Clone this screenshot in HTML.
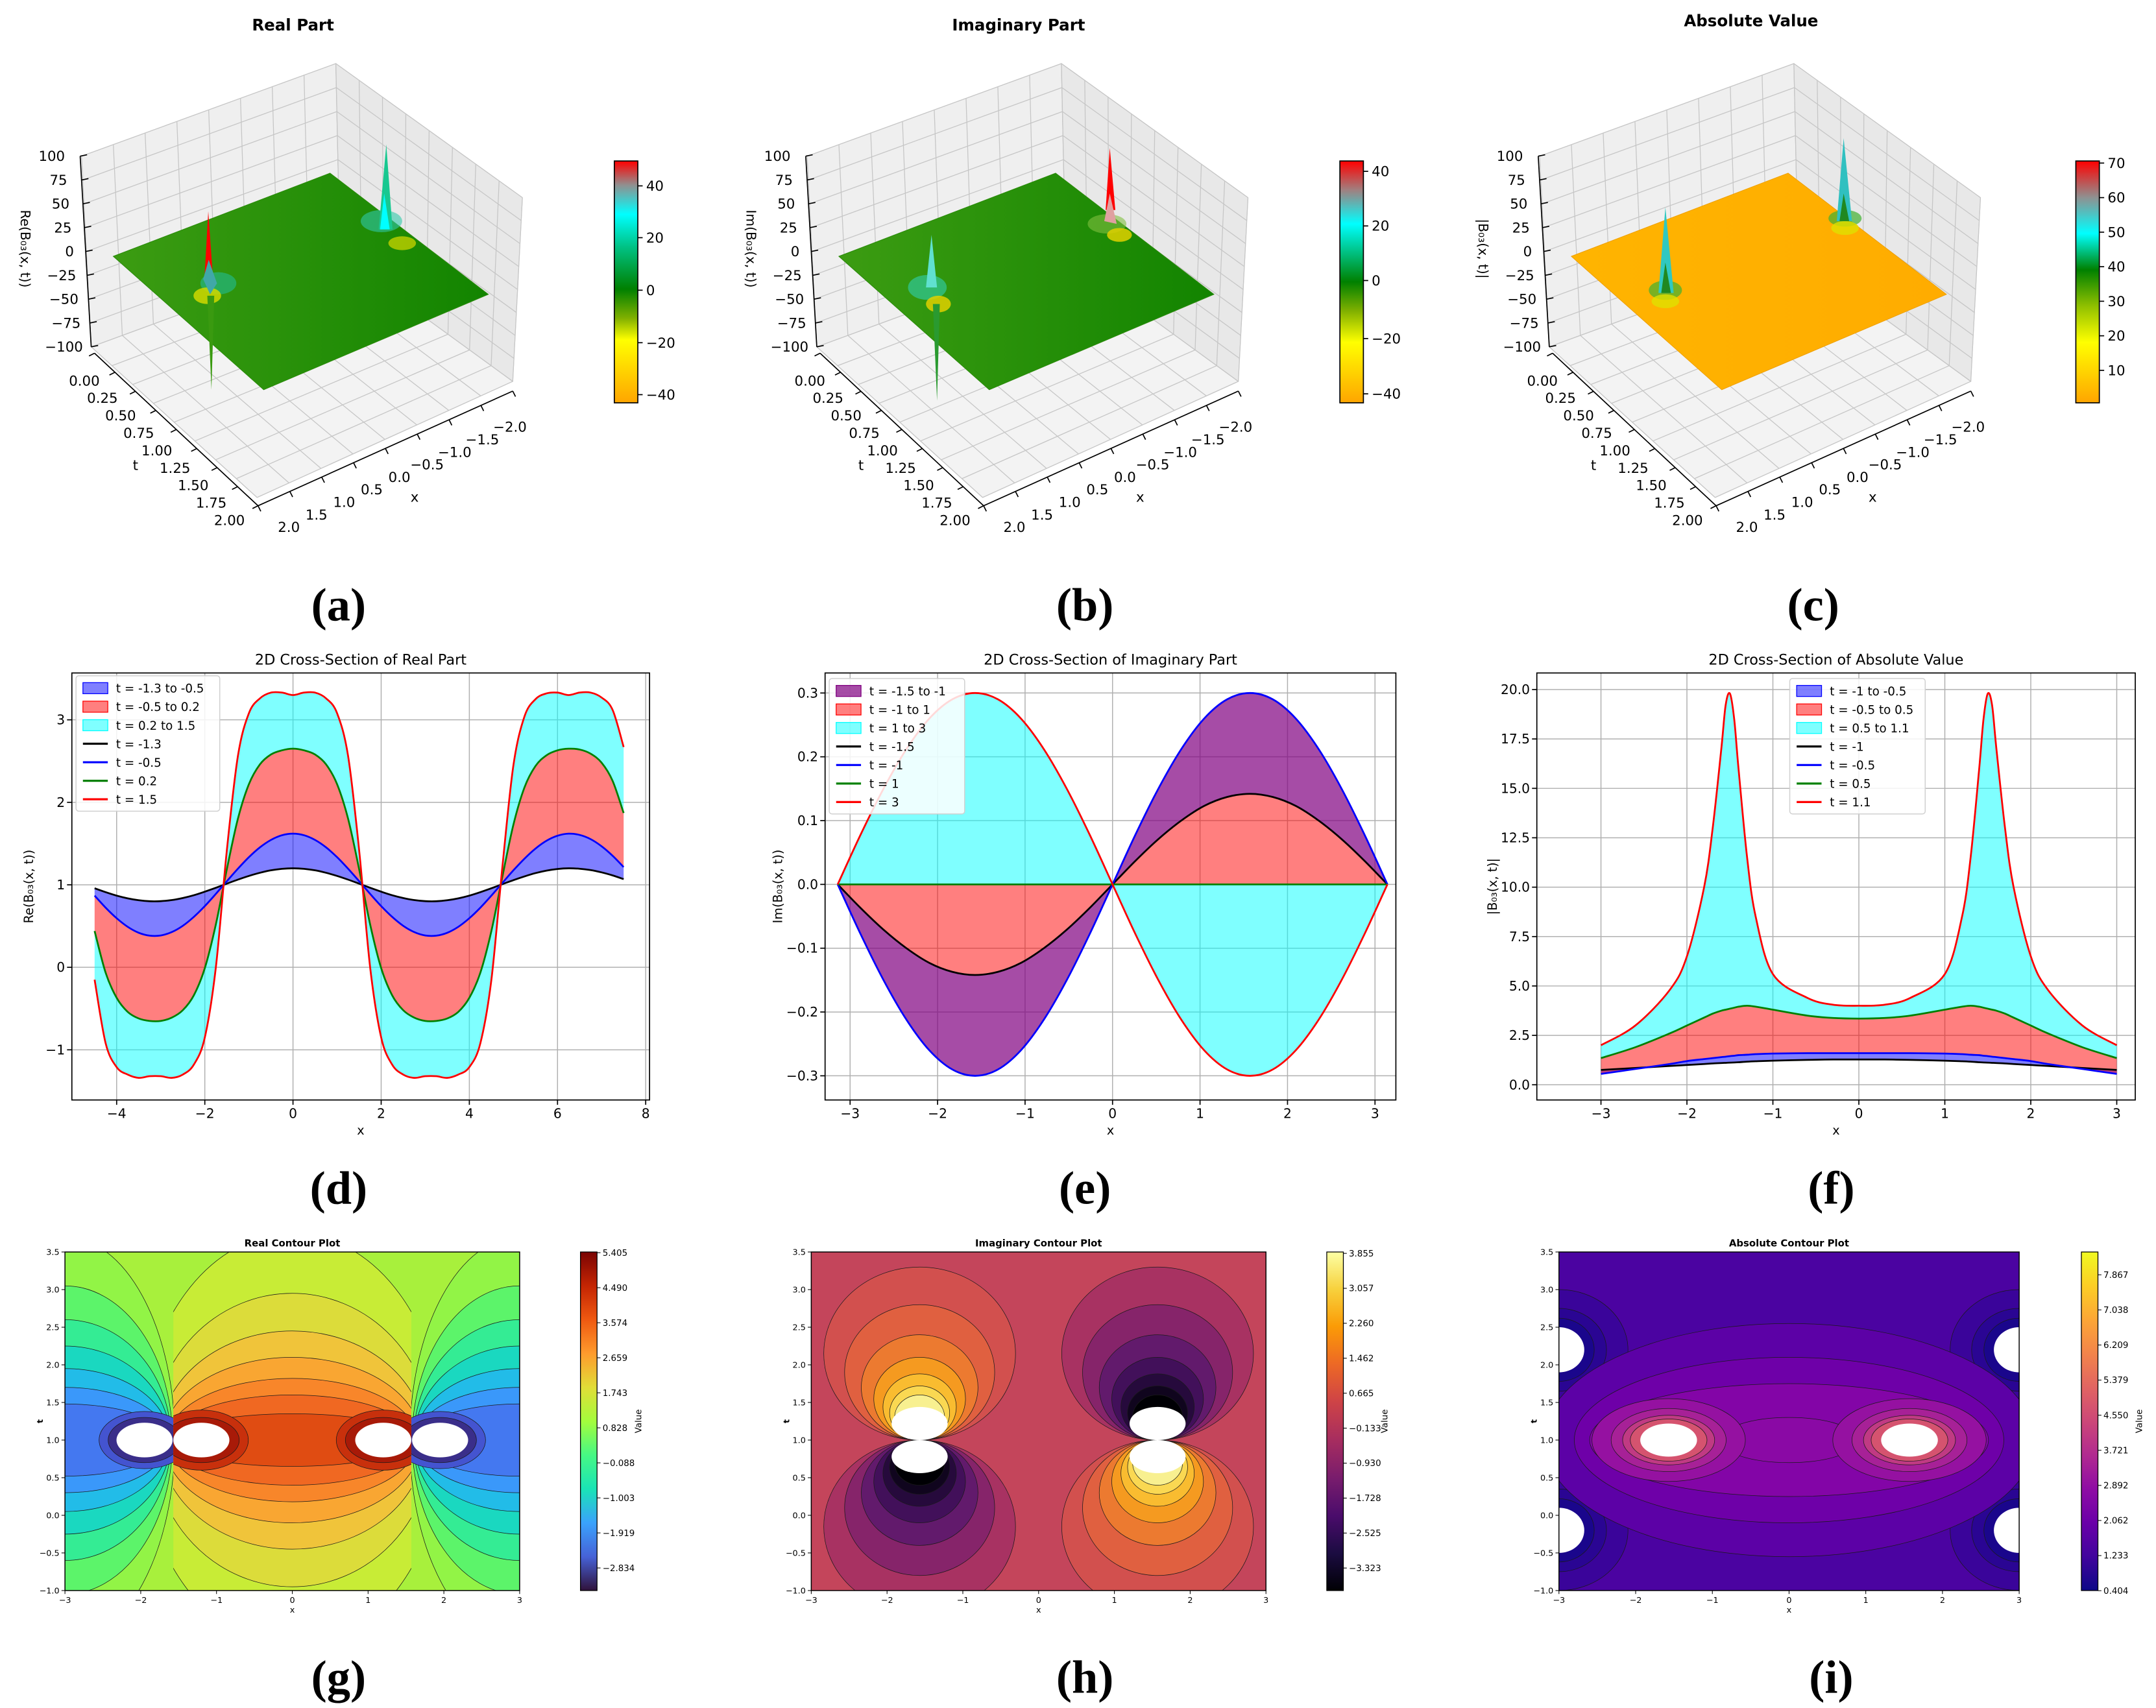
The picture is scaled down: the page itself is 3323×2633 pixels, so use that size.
<!DOCTYPE html>
<html><head><meta charset="utf-8">
<style>html,body{margin:0;padding:0;background:#fff}svg{display:block}</style>
</head><body>
<svg id="fig" xmlns="http://www.w3.org/2000/svg" width="3323" height="2633" viewBox="0 0 1560 1236" preserveAspectRatio="none" font-family="'DejaVu Sans','Liberation Sans',sans-serif">
<defs id="defs"></defs>
<rect x="0" y="0" width="1560" height="1236" fill="#fff"/>
</svg>
<script>
// ---------- panel (d) data ----------
const dX=[-4.5,-4.25,-4,-3.75,-3.5,-3.25,-3,-2.75,-2.5,-2.25,-2,-1.75,-1.5,-1.25,-1,-0.75,-0.5,-0.25,0,0.25,0.5,0.75,1,1.25,1.5,1.75,2,2.25,2.5,2.75,3,3.25,3.5,3.75,4,4.25,4.5,4.75,5,5.25,5.5,5.75,6,6.25,6.5,6.75,7,7.25,7.5];
const dBlack=[.958,.911,.869,.836,.813,.801,.802,.815,.840,.874,.917,.964,1.014,1.063,1.108,1.146,1.176,1.194,1.2,1.194,1.176,1.146,1.108,1.063,1.014,.964,.917,.874,.840,.815,.802,.801,.813,.836,.869,.911,.958,1.008,1.057,1.102,1.142,1.172,1.192,1.2,1.195,1.179,1.151,1.114,1.069];
const dBlue=[.869,.723,.595,.491,.419,.384,.386,.427,.503,.611,.742,.890,1.044,1.195,1.335,1.454,1.544,1.601,1.62,1.601,1.544,1.454,1.335,1.195,1.044,.890,.742,.611,.503,.427,.386,.384,.419,.491,.595,.723,.869,1.023,1.176,1.317,1.439,1.534,1.595,1.62,1.605,1.554,1.467,1.352,1.215];
const dGreen=[.44,-.065,-.37,-.54,-.62,-.65,-.65,-.61,-.52,-.34,-.01,.52,1.19,1.80,2.22,2.46,2.58,2.63,2.65,2.63,2.58,2.46,2.22,1.80,1.19,.52,-.01,-.34,-.52,-.61,-.65,-.65,-.62,-.54,-.37,-.065,.44,1.10,1.73,2.18,2.44,2.57,2.63,2.65,2.64,2.59,2.48,2.26,1.87];
const dRed=[-.15,-.92,-1.21,-1.30,-1.34,-1.32,-1.32,-1.34,-1.30,-1.18,-.85,0,1.42,2.56,3.08,3.26,3.33,3.33,3.30,3.33,3.33,3.26,3.08,2.56,1.42,0,-.85,-1.18,-1.30,-1.34,-1.32,-1.32,-1.34,-1.30,-1.21,-.92,-.15,1.22,2.45,3.04,3.25,3.32,3.33,3.30,3.33,3.33,3.27,3.12,2.67];
const dXTicks=[-4,-2,0,2,4,6,8];
const dYTicks=[-1,0,1,2,3];
// ---------- panel (e) data ----------
const eX=[-3.1416,-2.8798,-2.618,-2.3562,-2.0944,-1.8326,-1.5708,-1.309,-1.0472,-0.7854,-0.5236,-0.2618,0,0.2618,0.5236,0.7854,1.0472,1.309,1.5708,1.8326,2.0944,2.3562,2.618,2.8798,3.1416];
const eBlack=[0,-.037,-.071,-.1,-.123,-.137,-.142,-.137,-.123,-.1,-.071,-.037,0,.037,.071,.1,.123,.137,.142,.137,.123,.1,.071,.037,0];
const eBlue=[0,-.078,-.15,-.212,-.26,-.29,-.3,-.29,-.26,-.212,-.15,-.078,0,.078,.15,.212,.26,.29,.3,.29,.26,.212,.15,.078,0];
const eGreen=[0,0,0,0,0,0,0,0,0,0,0,0,0,0,0,0,0,0,0,0,0,0,0,0,0];
const eRed=[0,.078,.15,.212,.26,.29,.3,.29,.26,.212,.15,.078,0,-.078,-.15,-.212,-.26,-.29,-.3,-.29,-.26,-.212,-.15,-.078,0];
const eXTicks=[-3,-2,-1,0,1,2,3];
const eYTicks=[-0.3,-0.2,-0.1,0,0.1,0.2,0.3];
// ---------- panel (f) data ----------
const fX=[-3,-2.6,-2.2,-2.0,-1.8,-1.7,-1.6,-1.55,-1.5,-1.45,-1.4,-1.3,-1.2,-1.0,-0.6,-0.3,0,0.3,0.6,1.0,1.2,1.3,1.4,1.45,1.5,1.55,1.6,1.7,1.8,2.0,2.2,2.6,3];
const fRed=[2.0,3.0,4.8,6.5,10,13,17,19.2,19.8,18.5,16,11.5,8.5,5.6,4.4,4.05,4.0,4.05,4.4,5.6,8.5,11.5,16,18.5,19.8,19.2,17,13,10,6.5,4.8,3.0,2.0];
const fGreen=[1.35,1.9,2.6,3.0,3.4,3.6,3.75,3.8,3.85,3.9,3.95,4.0,3.95,3.8,3.5,3.38,3.35,3.38,3.5,3.8,3.95,4.0,3.95,3.9,3.85,3.8,3.75,3.6,3.4,3.0,2.6,1.9,1.35];
const fBlue=[.55,.8,1.05,1.2,1.3,1.35,1.4,1.42,1.45,1.47,1.5,1.52,1.55,1.58,1.6,1.6,1.6,1.6,1.6,1.58,1.55,1.52,1.5,1.47,1.45,1.42,1.4,1.35,1.3,1.2,1.05,.8,.55];
const fBlack=[.75,.85,.95,1.0,1.05,1.08,1.1,1.11,1.12,1.13,1.14,1.17,1.19,1.22,1.26,1.28,1.28,1.28,1.26,1.22,1.19,1.17,1.14,1.13,1.12,1.11,1.1,1.08,1.05,1.0,.95,.85,.75];
const fXTicks=[-3,-2,-1,0,1,2,3];
const fYTicks=[0,2.5,5,7.5,10,12.5,15,17.5,20];
// ---------- colorbar tick labels ----------
const gCbTicks=['5.405','4.490','3.574','2.659','1.743','0.828','−0.088','−1.003','−1.919','−2.834'];
const hCbTicks=['3.855','3.057','2.260','1.462','0.665','−0.133','−0.930','−1.728','−2.525','−3.323'];
const iCbTicks=['7.867','7.038','6.209','5.379','4.550','3.721','2.892','2.062','1.233','0.404'];

const NS='http://www.w3.org/2000/svg';
const fig=document.getElementById('fig');
const defs=document.getElementById('defs');
function mk(tag,attrs,parent){const e=document.createElementNS(NS,tag);for(const k in attrs)e.setAttribute(k,attrs[k]);(parent||fig).appendChild(e);return e;}
function grp(name,parent,attrs){const g=mk('g',attrs||{},parent);


return g;}
function tx(parent,name,s,x,y,attrs){const e=mk('text',Object.assign({x:x,y:y},attrs||{}),parent);e.textContent=s;


return e;}
function ln(parent,name,x1,y1,x2,y2,stroke,w){const e=mk('line',{x1:x1,y1:y1,x2:x2,y2:y2,stroke:stroke,'stroke-width':w},parent);


return e;}
function gradient(id,stops){const lg=mk('linearGradient',{id:id,x1:0,y1:0,x2:0,y2:1},defs);stops.forEach(s=>mk('stop',{offset:s[0],'stop-color':s[1]},lg));}
function seg(p){let d='';for(let i=0;i<p.length-1;i++){const p0=p[Math.max(i-1,0)],p1=p[i],p2=p[i+1],p3=p[Math.min(i+2,p.length-1)];
d+=` C${(p1[0]+(p2[0]-p0[0])/6).toFixed(2)},${(p1[1]+(p2[1]-p0[1])/6).toFixed(2)} ${(p2[0]-(p3[0]-p1[0])/6).toFixed(2)},${(p2[1]-(p3[1]-p1[1])/6).toFixed(2)} ${p2[0].toFixed(2)},${p2[1].toFixed(2)}`;}return d;}
function smoothPath(p){return `M${p[0][0].toFixed(2)},${p[0][1].toFixed(2)}`+seg(p);}
function fmt(v){return (v<0?'−':'')+Math.abs(v);}

// ================= ROW 2 : 2D cross sections =================
function panel2D(c){
  const g=grp(c.name);
  const sx=v=>c.x0+v*c.kx, sy=v=>c.y0-v*c.ky;
  mk('rect',{x:c.L,y:c.T,width:c.R-c.L,height:c.B-c.T,fill:'#fff'},g);
  const grid=grp(c.name+'-grid',g);
  c.xt.forEach(v=>{if(sx(v)>c.L&&sx(v)<c.R)ln(grid,'x-gridline',sx(v),c.T,sx(v),c.B,'#b0b0b0',0.7);});
  c.yt.forEach(v=>ln(grid,'y-gridline',c.L,sy(v),c.R,sy(v),'#b0b0b0',0.7));
  c.fills.forEach(f=>{
    const A=c.xs.map((x,i)=>[sx(x),sy(f.lo[i])]);
    const B=c.xs.map((x,i)=>[sx(x),sy(f.hi[i])]).reverse();
    const p=mk('path',{d:smoothPath(A)+` L${B[0][0].toFixed(2)},${B[0][1].toFixed(2)}`+seg(B)+'Z',fill:f.color,'fill-opacity':f.op,stroke:'none'},g);
    
    
  });
  c.lines.forEach(l=>{
    const P=c.xs.map((x,i)=>[sx(x),sy(l.v[i])]);
    const p=mk('path',{d:smoothPath(P),fill:'none',stroke:l.color,'stroke-width':1.3},g);
    
    
  });
  const fr=mk('rect',{x:c.L,y:c.T,width:c.R-c.L,height:c.B-c.T,fill:'none',stroke:'#000','stroke-width':0.8},g);
  
  
  const ax=grp(c.name+'-x-axis',g,{'font-size':9.5,'text-anchor':'middle'});
  c.xt.forEach((v,i)=>{ln(ax,'x-tick',sx(v),c.B,sx(v),c.B+3.5,'#000',0.8);tx(ax,'x-tick-label',c.xtl[i],sx(v),c.B+13);});
  const ay=grp(c.name+'-y-axis',g,{'font-size':9.5,'text-anchor':'end'});
  c.yt.forEach((v,i)=>{ln(ay,'y-tick',c.L-3.5,sy(v),c.L,sy(v),'#000',0.8);tx(ay,'y-tick-label',c.ytl[i],c.L-5,sy(v)+3.3);});
  tx(g,'chart-title',c.title,(c.L+c.R)/2,c.T-6,{'font-size':10.5,'text-anchor':'middle'});
  tx(g,'x-axis-title','x',(c.L+c.R)/2,c.B+25,{'font-size':9,'text-anchor':'middle'});
  tx(g,'y-axis-title',c.ylabel,0,0,{'font-size':9,'text-anchor':'middle',transform:`translate(${c.ylx},${(c.T+c.B)/2}) rotate(-90)`});
  const lg=grp(c.name+'-legend',g,{'font-size':8.6});
  mk('rect',{x:c.lgx,y:c.lgy,width:c.lgw,height:98,rx:2,fill:'#fff','fill-opacity':0.85,stroke:'#d0d0d0','stroke-width':0.7},lg);
  c.legend.forEach((e,i)=>{
    const y=c.lgy+9+i*13.4;
    if(e.patch){const r=mk('rect',{x:c.lgx+5,y:y-4,width:18,height:8,fill:e.color,'fill-opacity':e.op,stroke:e.edge,'stroke-width':0.6},lg);
      
      }
    else ln(lg,'legend-line',c.lgx+5,y,c.lgx+23,y,e.color,1.5);
    tx(lg,'legend-entry',e.label,c.lgx+29,y+3.2);
  });
}
panel2D({name:'real-cross-section',L:52,R:470,T:487,B:796,x0:212,kx:31.9,y0:700,ky:59.7,xs:dX,
  xt:dXTicks,xtl:dXTicks.map(fmt),yt:dYTicks,ytl:dYTicks.map(fmt),title:'2D Cross-Section of Real Part',ylabel:'Re(B₀₃(x, t))',ylx:24,
  fills:[{name:'fill-t-neg1.3-to-neg0.5',lo:dBlack,hi:dBlue,color:'#0000ff',op:0.5},{name:'fill-t-neg0.5-to-0.2',lo:dBlue,hi:dGreen,color:'#ff0000',op:0.5},{name:'fill-t-0.2-to-1.5',lo:dGreen,hi:dRed,color:'#00ffff',op:0.5}],
  lines:[{name:'line-t-neg1.3',v:dBlack,color:'#000'},{name:'line-t-neg0.5',v:dBlue,color:'#0000ff'},{name:'line-t-0.2',v:dGreen,color:'#008000'},{name:'line-t-1.5',v:dRed,color:'#ff0000'}],
  lgx:55,lgy:489,lgw:104,
  legend:[{patch:1,color:'#0000ff',op:.5,edge:'#0000ff',label:'t = -1.3 to -0.5'},{patch:1,color:'#ff0000',op:.5,edge:'#ff0000',label:'t = -0.5 to 0.2'},{patch:1,color:'#00ffff',op:.5,edge:'#00ffff',label:'t = 0.2 to 1.5'},
    {color:'#000',label:'t = -1.3'},{color:'#0000ff',label:'t = -0.5'},{color:'#008000',label:'t = 0.2'},{color:'#ff0000',label:'t = 1.5'}]});
panel2D({name:'imaginary-cross-section',L:597,R:1010,T:487,B:796,x0:805,kx:63.3,y0:640,ky:461.7,xs:eX,
  xt:eXTicks,xtl:eXTicks.map(fmt),yt:eYTicks,ytl:eYTicks.map(v=>fmt(+v.toFixed(1)).replace(/^(−?)0$/,'$10.0').replace(/^0$/,'0.0')),title:'2D Cross-Section of Imaginary Part',ylabel:'Im(B₀₃(x, t))',ylx:566,
  fills:[{name:'fill-t-neg1.5-to-neg1',lo:eBlue,hi:eBlack,color:'#800080',op:0.7},{name:'fill-t-neg1-to-1',lo:eBlack,hi:eGreen,color:'#ff0000',op:0.5},{name:'fill-t-1-to-3',lo:eGreen,hi:eRed,color:'#00ffff',op:0.5}],
  lines:[{name:'line-t-neg1.5',v:eBlack,color:'#000'},{name:'line-t-neg1',v:eBlue,color:'#0000ff'},{name:'line-t-1',v:eGreen,color:'#008000'},{name:'line-t-3',v:eRed,color:'#ff0000'}],
  lgx:600,lgy:491,lgw:98,
  legend:[{patch:1,color:'#800080',op:.7,edge:'#800080',label:'t = -1.5 to -1'},{patch:1,color:'#ff0000',op:.5,edge:'#ff0000',label:'t = -1 to 1'},{patch:1,color:'#00ffff',op:.5,edge:'#00ffff',label:'t = 1 to 3'},
    {color:'#000',label:'t = -1.5'},{color:'#0000ff',label:'t = -1'},{color:'#008000',label:'t = 1'},{color:'#ff0000',label:'t = 3'}]});
panel2D({name:'absolute-cross-section',L:1112,R:1545,T:487,B:796,x0:1345,kx:62.2,y0:785,ky:14.3,xs:fX,
  xt:fXTicks,xtl:fXTicks.map(fmt),yt:fYTicks,ytl:fYTicks.map(v=>v.toFixed(1)),title:'2D Cross-Section of Absolute Value',ylabel:'|B₀₃(x, t)|',ylx:1083,
  fills:[{name:'fill-t-neg1-to-neg0.5',lo:fBlack,hi:fBlue,color:'#0000ff',op:0.5},{name:'fill-t-neg0.5-to-0.5',lo:fBlue,hi:fGreen,color:'#ff0000',op:0.5},{name:'fill-t-0.5-to-1.1',lo:fGreen,hi:fRed,color:'#00ffff',op:0.5}],
  lines:[{name:'line-t-neg1',v:fBlack,color:'#000'},{name:'line-t-neg0.5',v:fBlue,color:'#0000ff'},{name:'line-t-0.5',v:fGreen,color:'#008000'},{name:'line-t-1.1',v:fRed,color:'#ff0000'}],
  lgx:1295,lgy:491,lgw:98,
  legend:[{patch:1,color:'#0000ff',op:.5,edge:'#0000ff',label:'t = -1 to -0.5'},{patch:1,color:'#ff0000',op:.5,edge:'#ff0000',label:'t = -0.5 to 0.5'},{patch:1,color:'#00ffff',op:.5,edge:'#00ffff',label:'t = 0.5 to 1.1'},
    {color:'#000',label:'t = -1'},{color:'#0000ff',label:'t = -0.5'},{color:'#008000',label:'t = 0.5'},{color:'#ff0000',label:'t = 1.1'}]});

// ================= ROW 1 : 3D surfaces =================
gradient('cb-a',[[0,'#ff0000'],[.1,'#909090'],[.22,'#00ffff'],[.36,'#00c080'],[.53,'#008000'],[.65,'#80b000'],[.74,'#ffff00'],[1,'#ffa500']]);
gradient('cb-b',[[0,'#ff0000'],[.12,'#a08080'],[.26,'#00ffff'],[.5,'#008000'],[.62,'#80b000'],[.75,'#ffff00'],[1,'#ffa500']]);
gradient('cb-c',[[0,'#ff0000'],[.15,'#909090'],[.3,'#00ffff'],[.45,'#008000'],[.6,'#90c000'],[.75,'#ffff00'],[1,'#ffa500']]);
const sg=mk('linearGradient',{id:'surf-green',x1:0,y1:0,x2:1,y2:0},defs);
mk('stop',{offset:0,'stop-color':'#3c9c12'},sg);mk('stop',{offset:1,'stop-color':'#128400'},sg);
const so=mk('linearGradient',{id:'surf-orange',x1:0,y1:0,x2:1,y2:0},defs);
mk('stop',{offset:0,'stop-color':'#ffb400'},so);mk('stop',{offset:1,'stop-color':'#ffac00'},so);

function bil(Q,u,v){const [A,B,C,D]=Q;return [(1-v)*((1-u)*A[0]+u*B[0])+v*((1-u)*D[0]+u*C[0]),(1-v)*((1-u)*A[1]+u*B[1])+v*((1-u)*D[1]+u*C[1])];}
function draw3D(c){
  const ox=c.ox;
  const P=p=>[p[0]+ox,p[1]];
  const g=grp(c.name);
  const LT=P([59,113]),BT=P([243,46]),BB=P([246,185]),LB=P([66,251]),RT=P([378,143]),RB=P([371,276]),F=P([186,360]);
  const panes=[{n:'back-left-pane',q:[LT,BT,BB,LB],f:'#efefef'},{n:'back-right-pane',q:[BT,RT,RB,BB],f:'#e8e8e8'},{n:'floor-pane',q:[LB,BB,RB,F],f:'#f3f3f3'}];
  panes.forEach(pn=>{
    const pg=grp(pn.n,g);
    mk('polygon',{points:pn.q.map(p=>p.join(',')).join(' '),fill:pn.f,stroke:'#d0d0d0','stroke-width':0.5},pg);
    for(let i=0;i<=8;i++){const a=bil(pn.q,i/8,0),b=bil(pn.q,i/8,1);ln(pg,'grid-line',a[0],a[1],b[0],b[1],'#c6c6c6',0.6);
      const e=bil(pn.q,0,i/8),f=bil(pn.q,1,i/8);ln(pg,'grid-line',e[0],e[1],f[0],f[1],'#c6c6c6',0.6);}
  });
  const S=[[82,185.5],[238.8,125.3],[353.3,213],[190.8,282]].map(P);
  const sf=mk('polygon',{points:S.map(p=>p.join(',')).join(' '),fill:c.surf,stroke:c.surfEdge,'stroke-width':0.5},g);
  
  
  const sp=grp('surface-spikes',g);
  c.blobs.forEach(b=>mk('ellipse',{cx:b[0]+ox,cy:b[1],rx:b[2],ry:b[3],fill:b[4],'fill-opacity':b[5]},sp));
  c.spikes.forEach(s=>mk('polygon',{points:s[0].map(p=>(p[0]+ox)+','+p[1]).join(' '),fill:s[1]},sp));
  // axes
  const za=grp('z-axis',g,{'font-size':10,'text-anchor':'end'});
  ln(za,'z-axis-line',58+ox,113,66+ox,251,'#000',0.8);
  for(let j=0;j<=8;j++){const v=j/8,x=58+8*v+ox,y=113+138*v;ln(za,'z-tick',x,y,x+5,y-1,'#000',0.8);
    tx(za,'z-tick-label',fmt(100-25*j),47+13*v+ox,y+3.5);}
  tx(g,'z-axis-title',c.zlabel,0,0,{'font-size':9.5,'text-anchor':'middle',transform:`translate(${15+ox},180) rotate(90)`});
  const ta=grp('t-axis',g,{'font-size':10,'text-anchor':'middle'});
  ln(ta,'t-axis-line',68.4+ox,255.6,186.7+ox,366,'#000',0.8);
  for(let j=0;j<=8;j++){const u=j/8,x=68.4+118.3*u+ox,y=255.6+110.4*u;ln(ta,'t-tick',x,y,x-4,y+2,'#000',0.8);
    tx(ta,'t-tick-label',(0.25*j).toFixed(2),61+105*u+ox,279+101*u);}
  tx(g,'t-axis-title','t',98+ox,340,{'font-size':10,'text-anchor':'middle'});
  const xa=grp('x-axis',g,{'font-size':10,'text-anchor':'middle'});
  ln(xa,'x-axis-line',186.7+ox,366,371+ox,283,'#000',0.8);
  for(let j=0;j<=8;j++){const u=j/8,x=186.7+184.3*u+ox,y=366-83*u;ln(xa,'x-tick',x,y,x+2,y+4,'#000',0.8);
    tx(xa,'x-tick-label',fmt(+(2-0.5*j).toFixed(1)).replace(/^(−?\d)$/,'$1.0'),209+160*u+ox,385-72.5*u);}
  tx(g,'x-axis-title','x',300+ox,363,{'font-size':10,'text-anchor':'middle'});
  tx(g,'chart-title',c.title,212+ox,c.ty,{'font-size':11.5,'font-weight':'bold','text-anchor':'middle'});
  const cb=grp('colorbar',g,{'font-size':10});
  const r=mk('rect',{x:c.cbx,y:116.5,width:17,height:175,fill:`url(#${c.cb})`,stroke:'#000','stroke-width':0.8},cb);
  
  
  c.cbt.forEach(t=>{ln(cb,'colorbar-tick',c.cbx+17,t[1],c.cbx+20.5,t[1],'#000',0.8);tx(cb,'colorbar-tick-label',t[0],c.cbx+23,t[1]+3.5);});
}
draw3D({name:'real-part-3d',ox:0,title:'Real Part',ty:22,zlabel:'Re(B₀₃(x, t))',surf:'url(#surf-green)',surfEdge:'#2a8a0a',cb:'cb-a',cbx:444.5,
  cbt:[['40',134.5],['20',172],['0',210],['−20',248],['−40',285.6]],
  blobs:[[158,205,13,8,'#20c0a0',.55],[150,214,10,6,'#d0d800',.85],[276,160,15,8,'#30c8a8',.6],[291,176,10,5,'#c0d000',.8]],
  spikes:[[[[148,200],[150.7,153],[154,200]],'#ff0000'],[[[147,202],[151,188],[157,205],[152,213]],'#40a8a8'],[[[150,214],[153,282],[155,214]],'#3a9a10'],
    [[[274,166],[279.5,104.5],[284,166]],'#18c890'],[[[275,166],[278,140],[282,166]],'#00ffff']]});
draw3D({name:'imaginary-part-3d',ox:525,title:'Imaginary Part',ty:22,zlabel:'Im(B₀₃(x, t))',surf:'url(#surf-green)',surfEdge:'#2a8a0a',cb:'cb-b',cbx:969.5,
  cbt:[['40',124],['20',163.5],['0',203],['−20',245],['−40',285]],
  blobs:[[146,208,14,9,'#30d0b0',.6],[154,220,9,6,'#e0d000',.85],[276,162,14,7,'#80c040',.6],[285,170,9,5,'#e0d000',.85]],
  spikes:[[[[145,208],[149,170],[153,208]],'#60e0d0'],[[[150,220],[153,290],[155,220]],'#2a9a30'],[[[275,152],[278,107],[282,152]],'#ff0000'],[[[274,160],[278,140],[283,162]],'#e0a0a0']]});
draw3D({name:'absolute-value-3d',ox:1055,title:'Absolute Value',ty:19,zlabel:'|B₀₃(x, t)|',surf:'url(#surf-orange)',surfEdge:'#f0a000',cb:'cb-c',cbx:1502,
  cbt:[['70',118],['60',143],['50',168],['40',193],['30',218],['20',243],['10',268]],
  blobs:[[150,210,12,7,'#40b030',.7],[150,218,10,5,'#e0e000',.8],[280,158,12,6,'#40b030',.7],[280,165,10,5,'#e0e000',.8]],
  spikes:[[[[145,212],[150,150],[156,212]],'#30c8c0'],[[[147,212],[150,190],[154,212]],'#208820'],[[[274,160],[279,100],[285,160]],'#30c0c0'],[[[276,160],[279,140],[283,160]],'#208820']]});

// ================= ROW 3 : contour plots =================
gradient('cb-turbo',[[0,'#7a0403'],[.1,'#c42503'],[.2,'#ef5911'],[.3,'#fe9b2d'],[.4,'#e1dd37'],[.5,'#a4fc3c'],[.6,'#46f884'],[.7,'#1ae4b6'],[.8,'#3aa2fc'],[.9,'#4662d7'],[1,'#30123b']]);
gradient('cb-inferno',[[0,'#fcffa4'],[.11,'#f7d13d'],[.22,'#fb9b06'],[.33,'#ed6925'],[.44,'#cf4446'],[.56,'#a52c60'],[.67,'#781c6d'],[.78,'#4a0c6b'],[.89,'#1b0c41'],[1,'#000004']]);
gradient('cb-plasma',[[0,'#f0f921'],[.1,'#fcce25'],[.2,'#fca636'],[.3,'#f2844b'],[.4,'#e16462'],[.5,'#cc4778'],[.6,'#b12a90'],[.7,'#8f0da4'],[.8,'#6a00a8'],[.9,'#41049d'],[1,'#0d0887']]);
function contour(c){
  const g=grp(c.name);
  const kx=(c.R-c.L)/6,ky=(c.B-c.T)/4.5;
  const sx=v=>(c.L+c.R)/2+v*kx, sy=v=>c.B-(v+1)*ky;
  const cp=mk('clipPath',{id:c.name+'-clip'},defs);mk('rect',{x:c.L,y:c.T,width:c.R-c.L,height:c.B-c.T},cp);
  const area=grp('contour-field',g,{'clip-path':`url(#${c.name}-clip)`});
  mk('rect',{x:c.L,y:c.T,width:c.R-c.L,height:c.B-c.T,fill:c.bg},area);
  c.layers.forEach(L=>{
    let parent=area;
    if(L.clip){const id=c.name+'-'+L.id;const cc=mk('clipPath',{id:id},defs);L.clip.forEach(r=>mk('rect',{x:sx(r[0]),y:c.T,width:sx(r[1])-sx(r[0]),height:c.B-c.T},cc));
      parent=mk('g',{'clip-path':`url(#${id})`},area);}
    L.e.forEach(e=>mk('ellipse',{cx:sx(e[0]),cy:sy(e[1]),rx:e[2]*kx,ry:e[3]*ky,fill:e[4],stroke:e[4]==='#fff'?'none':'#1a1a1a','stroke-width':0.35},parent));
  });
  const fr=mk('rect',{x:c.L,y:c.T,width:c.R-c.L,height:c.B-c.T,fill:'none',stroke:'#000','stroke-width':0.7},g);
  
  
  const ax=grp('x-axis',g,{'font-size':6,'text-anchor':'middle'});
  [-3,-2,-1,0,1,2,3].forEach(v=>{ln(ax,'x-tick',sx(v),c.B,sx(v),c.B+2.5,'#000',0.5);tx(ax,'x-tick-label',fmt(v),sx(v),c.B+9);});
  tx(g,'x-axis-title','x',(c.L+c.R)/2,c.B+16,{'font-size':6,'text-anchor':'middle'});
  const ay=grp('y-axis',g,{'font-size':6,'text-anchor':'end'});
  [-1,-0.5,0,0.5,1,1.5,2,2.5,3,3.5].forEach(v=>{ln(ay,'y-tick',c.L-2.5,sy(v),c.L,sy(v),'#000',0.5);tx(ay,'y-tick-label',fmt(v).replace(/^(−?\d)$/,'$1.0'),c.L-4,sy(v)+2.2);});
  tx(g,'y-axis-title','t',0,0,{'font-size':6,'font-weight':'bold','text-anchor':'middle',transform:`translate(${c.L-16},${(c.T+c.B)/2}) rotate(-90)`});
  tx(g,'chart-title',c.title,(c.L+c.R)/2,c.T-4,{'font-size':7,'font-weight':'bold','text-anchor':'middle'});
  const cb=grp('colorbar',g,{'font-size':6.3});
  const r=mk('rect',{x:c.cbx,y:c.T,width:12,height:c.B-c.T,fill:`url(#${c.cb})`,stroke:'#000','stroke-width':0.6},cb);
  
  
  c.cbt.forEach((t,i)=>{const y=c.cb0+i*c.cbs;ln(cb,'colorbar-tick',c.cbx+12,y,c.cbx+14.5,y,'#000',0.5);tx(cb,'colorbar-tick-label',t,c.cbx+16,y+2.2);});
  tx(cb,'colorbar-title','Value',0,0,{'font-size':6.3,'text-anchor':'middle',transform:`translate(${c.cbx+44},${(c.T+c.B)/2}) rotate(-90)`});
}
const gSides=[], gCenter=[];
[-1,1].forEach(s=>{gSides.push([3*s,1,1.45,2.7,'#92f446'],[3*s,1,1.42,2.05,'#5cf46a'],[3*s,1,1.4,1.6,'#34ec94'],[3*s,1,1.39,1.25,'#1ad8c0'],[3*s,1,1.38,0.95,'#22bce8'],[3*s,1,1.37,0.7,'#3a98fa'],[3*s,1,1.36,0.48,'#4478f0'],[1.95*s,1,0.6,0.38,'#4454d0'],[1.95*s,1,0.48,0.3,'#3a2e8a']);});
gCenter.push([0,1,2.0,2.75,'#c8ec36'],[0,1,1.85,1.95,'#dcdc3a'],[0,1,1.75,1.45,'#f0c43a'],[0,1,1.7,1.1,'#f9a632'],[0,1,1.65,0.82,'#f8862a'],[0,1,1.62,0.6,'#f06822'],[0,1,1.6,0.35,'#e04c12']);
[-1,1].forEach(s=>gCenter.push([1.2*s,1,0.62,0.4,'#c8300c'],[1.2*s,1,0.5,0.3,'#a81a08']));
contour({name:'real-contour-plot',title:'Real Contour Plot',L:47,R:376,T:906,B:1151,bg:'#a8f03c',cb:'cb-turbo',cbx:420,cbt:gCbTicks,cb0:906.5,cbs:25.35,
  layers:[{id:'sides',clip:[[-3,-1.57],[1.57,3]],e:gSides},{id:'center',clip:[[-1.57,1.57]],e:gCenter},
    {e:[[-1.95,1,0.37,0.23,'#fff'],[-1.2,1,0.37,0.23,'#fff'],[1.2,1,0.37,0.23,'#fff'],[1.95,1,0.37,0.23,'#fff']]}]});
const hE=[];
const rs=[1.15,0.9,0.7,0.55,0.44,0.36,0.3];
const bright=['#d2504e','#e06040','#ec7a30','#f59a20','#f9bc30','#fad852','#f8f090'];
const dark=['#a83262','#86246a','#621a6c','#42105a','#260a3c','#10051e','#000004'];
rs.forEach((r,i)=>{hE.push([-1.57,1+r,r*1.1,r,bright[i]],[-1.57,1-r,r*1.1,r,dark[i]],[1.57,1+r,r*1.1,r,dark[i]],[1.57,1-r,r*1.1,r,bright[i]]);});
contour({name:'imaginary-contour-plot',title:'Imaginary Contour Plot',L:587,R:916,T:906,B:1151,bg:'#c4455b',cb:'cb-inferno',cbx:960,cbt:hCbTicks,cb0:907,cbs:25.3,
  layers:[{e:hE},{e:[[-1.57,1.22,0.37,0.22,'#fff'],[-1.57,0.78,0.37,0.22,'#fff'],[1.57,1.22,0.37,0.22,'#fff'],[1.57,0.78,0.37,0.22,'#fff']]}]});
const iE=[];
[-3,3].forEach(x=>[2.2,-0.2].forEach(t=>iE.push([x,t,0.9,0.8,'#3a049a'],[x,t,0.62,0.55,'#2a0593'],[x,t,0.46,0.42,'#1a068c'])));
iE.push([0,1,3.2,1.55,'#5c01a6'],[0,1,2.8,1.1,'#6e00a8'],[0,1,2.6,0.75,'#8305a7'],[0,1,0.9,0.3,'#8a09a5']);
[-1.57,1.57].forEach(x=>iE.push([x,1,1.0,0.55,'#9511a1'],[x,1,0.75,0.42,'#a72197'],[x,1,0.6,0.33,'#c03a83'],[x,1,0.5,0.28,'#d5536f']));
contour({name:'absolute-contour-plot',title:'Absolute Contour Plot',L:1128,R:1461,T:906,B:1151,bg:'#4b03a1',cb:'cb-plasma',cbx:1506,cbt:iCbTicks,cb0:922.5,cbs:25.4,
  layers:[{e:iE},{e:[[-1.57,1,0.37,0.22,'#fff'],[1.57,1,0.37,0.22,'#fff'],[-3,2.2,0.33,0.3,'#fff'],[3,2.2,0.33,0.3,'#fff'],[-3,-0.2,0.33,0.3,'#fff'],[3,-0.2,0.33,0.3,'#fff']]}]});

// ================= panel letters =================
const letters=grp('panel-letters',fig,{'font-family':"'Liberation Serif',serif",'font-weight':'bold','font-size':34,'text-anchor':'middle'});
[['(a)',245,449],['(b)',785,449],['(c)',1312,449],['(d)',245,871],['(e)',785,871],['(f)',1325,871],['(g)',245,1225],['(h)',785,1225],['(i)',1325,1225]].forEach(l=>tx(letters,'panel-letter',l[0],l[1],l[2]));
</script>
</body></html>
